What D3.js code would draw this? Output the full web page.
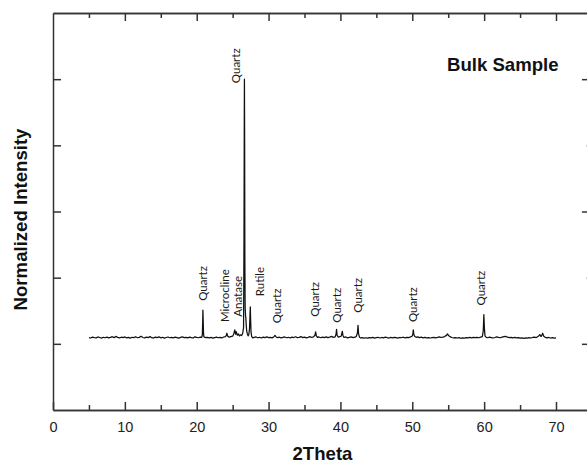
<!DOCTYPE html>
<html>
<head>
<meta charset="utf-8">
<script src="https://cdn.jsdelivr.net/npm/d3@7"></script>
<style>
  body { margin: 0; background: #fff; }
  svg { display: block; }
</style>
</head>
<body>
<div id="xrd"></div>
<script>
// XRD scan of the bulk sample: [2theta, normalized intensity]
const scan = [
  [5.00,1.095],[5.25,1.088],[5.50,1.102],[5.75,1.093],[6.00,1.090],[6.25,1.104],[6.50,1.096],[6.75,1.087],
  [7.00,1.099],[7.25,1.092],[7.50,1.101],[7.75,1.090],[8.00,1.097],[8.25,1.108],[8.50,1.094],[8.75,1.112],
  [9.00,1.098],[9.25,1.089],[9.50,1.100],[9.75,1.093],[10.00,1.104],[10.25,1.091],[10.50,1.097],[10.75,1.086],
  [11.00,1.099],[11.25,1.094],[11.50,1.107],[11.75,1.092],[12.00,1.098],[12.25,1.115],[12.50,1.096],[12.75,1.089],
  [13.00,1.101],[13.25,1.094],[13.50,1.109],[13.75,1.093],[14.00,1.088],[14.25,1.102],[14.50,1.095],[14.75,1.105],
  [15.00,1.091],[15.25,1.099],[15.50,1.087],[15.75,1.096],[16.00,1.103],[16.25,1.092],[16.50,1.098],[16.75,1.090],
  [17.00,1.101],[17.25,1.094],[17.50,1.086],[17.75,1.097],[18.00,1.104],[18.25,1.093],[18.50,1.099],[18.75,1.090],
  [19.00,1.102],[19.25,1.095],[19.50,1.088],[19.75,1.106],[20.00,1.097],[20.25,1.092],[20.50,1.101],[20.70,1.098],
  [20.78,1.135],[20.83,1.330],[20.86,1.510],[20.90,1.360],[20.95,1.150],[21.00,1.104],[21.25,1.093],[21.50,1.099],
  [21.75,1.090],[22.00,1.097],[22.25,1.086],[22.50,1.094],[22.75,1.101],[23.00,1.092],[23.25,1.098],[23.50,1.089],
  [23.75,1.103],[24.00,1.110],[24.10,1.125],[24.20,1.160],[24.30,1.118],[24.50,1.100],[24.75,1.108],[25.00,1.116],
  [25.15,1.150],[25.30,1.210],[25.40,1.145],[25.50,1.185],[25.65,1.130],[25.80,1.150],[25.95,1.120],[26.10,1.135],
  [26.25,1.125],[26.40,1.160],[26.52,1.250],[26.58,2.600],[26.62,4.400],[26.64,5.000],[26.67,4.100],[26.70,2.300],
  [26.74,1.550],[26.80,1.420],[26.84,1.390],[26.88,1.300],[26.95,1.200],[27.05,1.150],[27.15,1.120],[27.25,1.140],
  [27.35,1.230],[27.42,1.450],[27.46,1.560],[27.50,1.380],[27.56,1.180],[27.65,1.110],[27.80,1.090],[28.00,1.098],
  [28.25,1.104],[28.50,1.092],[28.75,1.099],[29.00,1.088],[29.25,1.101],[29.50,1.094],[29.75,1.105],[30.00,1.093],
  [30.25,1.099],[30.50,1.090],[30.75,1.108],[30.90,1.128],[31.05,1.103],[31.25,1.094],[31.50,1.100],[31.75,1.089],
  [32.00,1.097],[32.25,1.104],[32.50,1.092],[32.75,1.099],[33.00,1.088],[33.25,1.101],[33.50,1.095],[33.75,1.107],
  [34.00,1.093],[34.25,1.098],[34.50,1.110],[34.75,1.094],[35.00,1.102],[35.25,1.091],[35.50,1.099],[35.75,1.108],
  [36.00,1.096],[36.25,1.104],[36.45,1.130],[36.55,1.180],[36.65,1.120],[36.80,1.098],[37.00,1.104],[37.25,1.092],
  [37.50,1.100],[37.75,1.095],[38.00,1.106],[38.25,1.094],[38.50,1.101],[38.75,1.112],[39.00,1.098],[39.25,1.104],
  [39.38,1.140],[39.46,1.220],[39.54,1.130],[39.70,1.100],[39.90,1.108],[40.10,1.115],[40.27,1.190],[40.35,1.125],
  [40.50,1.096],[40.75,1.104],[41.00,1.091],[41.25,1.099],[41.50,1.106],[41.75,1.094],[42.00,1.101],[42.20,1.110],
  [42.36,1.160],[42.45,1.280],[42.53,1.150],[42.65,1.100],[42.85,1.088],[43.00,1.094],[43.25,1.085],[43.50,1.092],
  [43.75,1.086],[44.00,1.095],[44.25,1.089],[44.50,1.098],[44.75,1.087],[45.00,1.093],[45.25,1.099],[45.50,1.088],
  [45.75,1.096],[46.00,1.090],[46.25,1.101],[46.50,1.093],[46.75,1.088],[47.00,1.097],[47.25,1.091],[47.50,1.099],
  [47.75,1.094],[48.00,1.087],[48.25,1.096],[48.50,1.092],[48.75,1.100],[49.00,1.090],[49.25,1.098],[49.50,1.093],
  [49.75,1.104],[50.00,1.118],[50.08,1.150],[50.14,1.210],[50.22,1.140],[50.35,1.112],[50.55,1.098],[50.75,1.104],
  [51.00,1.093],[51.25,1.100],[51.50,1.091],[51.75,1.097],[52.00,1.089],[52.25,1.095],[52.50,1.088],[52.75,1.094],
  [53.00,1.099],[53.25,1.091],[53.50,1.097],[53.75,1.105],[54.00,1.096],[54.25,1.102],[54.50,1.110],[54.75,1.128],
  [54.90,1.150],[55.05,1.125],[55.25,1.108],[55.50,1.096],[55.75,1.089],[56.00,1.095],[56.25,1.088],[56.50,1.094],
  [56.75,1.084],[57.00,1.091],[57.25,1.087],[57.50,1.095],[57.75,1.089],[58.00,1.097],[58.25,1.090],[58.50,1.098],
  [58.75,1.093],[59.00,1.099],[59.25,1.092],[59.50,1.101],[59.75,1.110],[59.88,1.200],[59.96,1.440],[60.04,1.230],
  [60.12,1.120],[60.30,1.098],[60.50,1.092],[60.75,1.100],[61.00,1.094],[61.25,1.088],[61.50,1.096],[61.75,1.105],
  [62.00,1.098],[62.25,1.092],[62.50,1.100],[62.75,1.108],[63.00,1.112],[63.25,1.100],[63.50,1.094],[63.75,1.099],
  [64.00,1.091],[64.25,1.097],[64.50,1.089],[64.75,1.095],[65.00,1.085],[65.25,1.091],[65.50,1.083],[65.75,1.089],
  [66.00,1.086],[66.25,1.094],[66.50,1.088],[66.75,1.096],[67.00,1.101],[67.25,1.095],[67.50,1.110],[67.74,1.140],
  [67.90,1.112],[68.00,1.120],[68.14,1.160],[68.30,1.115],[68.50,1.098],[68.75,1.090],[69.00,1.096],[69.25,1.088],
  [69.50,1.093],[69.75,1.086],[70.00,1.090]
];

// phase labels: name, 2theta where the label sits, intensity where the text starts
const labelNames  = ["Quartz", "Microcline", "Anatase", "Quartz", "Rutile", "Quartz",
                     "Quartz", "Quartz", "Quartz", "Quartz", "Quartz"];
const labelAngles = [20.9, 23.9, 25.8, 25.45, 28.8, 31.1, 36.4, 39.45, 42.4, 50.1, 59.6];
const labelBase   = [1.65, 1.33, 1.41, 4.94, 1.72, 1.31, 1.41, 1.32, 1.47, 1.33, 1.58];

// tick values
const xMajor = [0, 10, 20, 30, 40, 50, 60, 70];
const xMinor = [5, 15, 25, 35, 45, 55, 65];
const topMajor = [10, 20, 30, 40, 50, 60, 70];
const yTicks = [1, 2, 3, 4, 5];
const yRightMajor = [1, 3, 5];
const yRightMinor = [2, 4];

const width = 587, height = 466;
const margin = {top: 13, left: 53, bottom: 56};

const svg = d3.select("#xrd")
  .append("svg")
  .attr("width", width)
  .attr("height", height);

// x frame runs a bit past the right edge of the picture
let xScale = d3.scaleLinear()
  .domain([0, 75])
  .range([margin.left, margin.left + 75 * 7.1857]);

let yScale = d3.scaleLinear()
  .domain([0, 6])
  .range([height - margin.bottom, margin.top]);

const axisColor = "#333";

function styleAxis(g) {
  g.selectAll("path, line").attr("stroke", axisColor).attr("stroke-width", 1.5);
}

// bottom axis (major with labels, minor without)
svg.append("g")
    .attr("transform", `translate(0,${yScale(0)})`)
    .call(d3.axisBottom(xScale).tickValues(xMajor).tickSize(-8).tickSizeOuter(0).tickPadding(12))
    .call(styleAxis)
    .call(g => g.selectAll("text")
      .attr("fill", "#222")
      .attr("font-family", "Liberation Sans, Arial, sans-serif")
      .attr("font-size", "14.5px"));

svg.append("g")
    .attr("transform", `translate(0,${yScale(0)})`)
    .call(d3.axisBottom(xScale).tickValues(xMinor).tickSize(-5).tickSizeOuter(0).tickFormat(""))
    .call(styleAxis);

// top axis
svg.append("g")
    .attr("transform", `translate(0,${yScale(6)})`)
    .call(d3.axisTop(xScale).tickValues(topMajor).tickSize(-8).tickSizeOuter(0).tickFormat(""))
    .call(styleAxis);

svg.append("g")
    .attr("transform", `translate(0,${yScale(6)})`)
    .call(d3.axisTop(xScale).tickValues(xMinor).tickSize(-5).tickSizeOuter(0).tickFormat(""))
    .call(styleAxis);

// left axis, no labels
svg.append("g")
    .attr("transform", `translate(${xScale(0)},0)`)
    .call(d3.axisLeft(yScale).tickValues(yTicks).tickSize(-8).tickSizeOuter(0).tickFormat(""))
    .call(styleAxis);

// right axis
svg.append("g")
    .attr("transform", `translate(${xScale(75)},0)`)
    .call(d3.axisRight(yScale).tickValues(yRightMajor).tickSize(-10).tickSizeOuter(0).tickFormat(""))
    .call(styleAxis);

svg.append("g")
    .attr("transform", `translate(${xScale(75)},0)`)
    .call(d3.axisRight(yScale).tickValues(yRightMinor).tickSize(-6).tickSizeOuter(0).tickFormat(""))
    .call(g => g.selectAll("path, line").attr("stroke", "#bbb").attr("stroke-width", 1.2));

// the pattern
const line = d3.line()
  .x(d => xScale(d[0]))
  .y(d => yScale(d[1]));

svg.append("path")
    .datum(scan)
    .attr("fill", "none")
    .attr("stroke", "#111")
    .attr("stroke-width", 1.25)
    .attr("stroke-linejoin", "round")
    .attr("d", line);

// phase labels, written bottom to top
svg.selectAll(".phase")
    .data(labelNames)
    .enter()
    .append("text")
      .attr("class", "phase")
      .attr("transform", (d, i) => `translate(${xScale(labelAngles[i])},${yScale(labelBase[i])}) rotate(-90)`)
      .attr("dy", "0.35em")
      .attr("font-family", "Lato, 'Open Sans', sans-serif")
      .attr("font-size", "11.5px")
      .attr("fill", "#1a1a1a")
      .text(d => d);

// titles
const titleFont = "Liberation Sans, Arial, sans-serif";

svg.append("text")
    .attr("x", xScale(37.5))
    .attr("y", 460)
    .attr("text-anchor", "middle")
    .attr("font-family", titleFont)
    .attr("font-weight", "bold")
    .attr("font-size", "18.6px")
    .attr("fill", "#111")
    .text("2Theta");

svg.append("text")
    .attr("transform", `translate(27,${(yScale(6) + yScale(0)) / 2 + 8}) rotate(-90)`)
    .attr("text-anchor", "middle")
    .attr("font-family", titleFont)
    .attr("font-weight", "bold")
    .attr("font-size", "18.6px")
    .attr("fill", "#111")
    .text("Normalized Intensity");

svg.append("text")
    .attr("x", 447)
    .attr("y", 70.5)
    .attr("font-family", titleFont)
    .attr("font-weight", "bold")
    .attr("font-size", "18.6px")
    .attr("fill", "#111")
    .text("Bulk Sample");
</script>
</body>
</html>
